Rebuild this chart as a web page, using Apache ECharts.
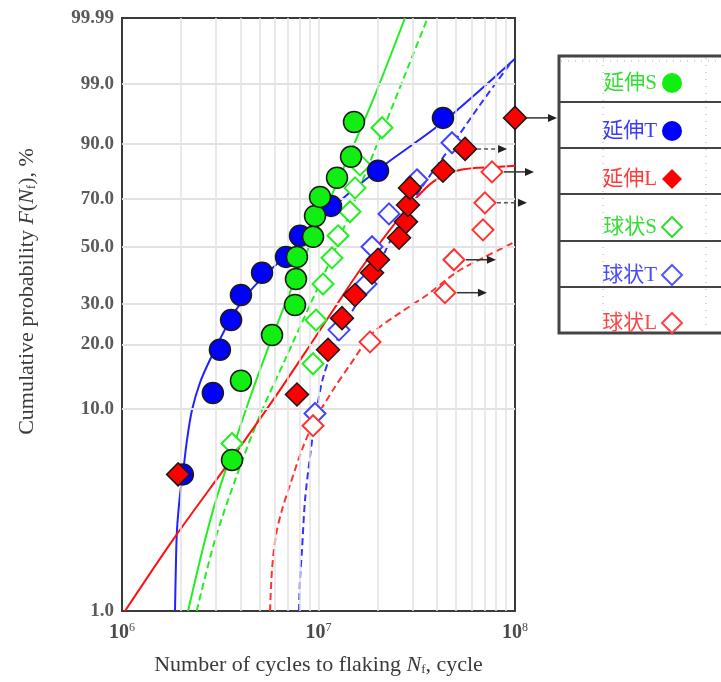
<!DOCTYPE html>
<html>
<head>
<meta charset="utf-8">
<script src="https://cdn.jsdelivr.net/npm/echarts@6/dist/echarts.min.js"></script>
<style>
html, body { margin: 0; padding: 0; background: #fff; }
#chart { width: 721px; height: 682px; }
</style>
</head>
<body>
<div id="chart"></div>
<script>
// 数据点：[循环次数 N, 累积概率 F %]
var yanshenS = [[3.63e6, 5.65], [4.03e6, 13.6], [5.80e6, 22.0], [7.59e6, 29.7], [7.68e6, 37.9], [7.77e6, 46.0],
  [9.38e6, 54.1], [9.60e6, 62.9], [1.018e7, 71.0], [1.242e7, 78.7], [1.464e7, 86.1], [1.516e7, 94.8]];
var yanshenT = [[2.04e6, 4.8], [2.90e6, 11.9], [3.15e6, 18.9], [3.59e6, 25.6], [4.03e6, 32.7], [5.16e6, 40.1],
  [6.83e6, 46.0], [8.05e6, 54.5], [1.158e7, 67.2], [2.008e7, 81.3], [4.30e7, 95.5]];
var yanshenL = [[1.93e6, 4.8], [7.77e6, 11.7], [1.118e7, 18.9], [1.317e7, 26.1], [1.534e7, 32.7], [1.873e7, 40.1],
  [2.008e7, 44.9], [2.569e7, 53.7], [2.788e7, 60.4], [2.854e7, 67.6], [2.921e7, 74.7], [4.30e7, 81.3],
  [5.57e7, 88.5], [1.0e8, 95.5]];
var qiuS = [[3.63e6, 6.8], [9.38e6, 16.3], [9.71e6, 25.6], [1.054e7, 36.2], [1.171e7, 45.6], [1.257e7, 54.5],
  [1.446e7, 64.7], [1.534e7, 74.7], [1.626e7, 83.4], [2.105e7, 93.7]];
var qiuT = [[9.60e6, 9.5], [1.272e7, 23.2], [1.745e7, 36.2], [1.873e7, 50.0], [2.285e7, 63.8], [3.17e7, 77.9],
  [4.78e7, 90.2]];
var qiuL = [[9.38e6, 8.3], [1.829e7, 20.5], [4.40e7, 33.4], [4.89e7, 44.9], [6.87e7, 57.0], [7.03e7, 68.5],
  [7.64e7, 80.9]];

// 拟合曲线
var fitYanshenS = [[2.168e6, 1.0], [2.584e6, 2.07], [3.009e6, 3.59], [3.545e6, 5.85], [4.481e6, 11.3],
  [5.867e6, 22.0], [7.774e6, 39.3], [1.018e7, 60.4], [1.364e7, 83.4], [1.940e7, 98.27], [2.755e7, 99.995]];
var fitQiuS = [[2.40e6, 1.0], [2.973e6, 2.27], [3.848e6, 4.77], [5.040e6, 9.35], [6.753e6, 17.0], [9.05e6, 29.7],
  [1.213e7, 48.8], [1.626e7, 75.1], [2.180e7, 94.3], [2.755e7, 99.40], [3.566e7, 99.994]];
var fitYanshenT = [[1.861e6, 1.0], [1.883e6, 1.80], [1.905e6, 2.55], [1.973e6, 3.80], [2.044e6, 4.88],
  [2.142e6, 7.08], [2.271e6, 9.88], [2.494e6, 13.3], [2.804e6, 17.0], [3.545e6, 25.6], [4.129e6, 31.2],
  [5.159e6, 38.3], [7.161e6, 48.0], [1.144e7, 65.5], [2.008e7, 81.7], [4.30e7, 94.8], [1.0e8, 99.79]];
var fitQiuT = [[7.96e6, 1.0], [8.05e6, 1.43], [8.24e6, 2.02], [8.54e6, 3.59], [9.05e6, 5.85], [9.60e6, 8.85],
  [1.054e7, 14.0], [1.213e7, 19.9], [1.446e7, 26.9], [1.725e7, 34.3], [2.056e7, 44.1], [2.451e7, 56.2],
  [3.285e7, 73.9], [4.67e7, 88.8], [6.64e7, 97.3], [9.43e7, 99.70]];
var fitYanshenL = [[1.036e6, 1.0], [1.861e6, 2.35], [3.672e6, 5.85], [5.867e6, 11.0], [8.74e6, 18.9],
  [1.286e7, 31.2], [1.626e7, 41.1], [2.056e7, 51.6], [2.921e7, 67.6], [3.825e7, 77.1], [5.07e7, 81.3],
  [6.41e7, 82.4], [7.91e7, 82.7], [1.0e8, 83.1]];
var fitQiuL = [[5.665e6, 1.0], [5.80e6, 1.61], [6.076e6, 2.40], [6.52e6, 3.20], [7.161e6, 4.26], [8.34e6, 6.54],
  [9.60e6, 8.85], [1.185e7, 12.3], [1.446e7, 16.1], [1.894e7, 22.5], [2.599e7, 27.5], [3.566e7, 32.7],
  [5.07e7, 40.4], [7.03e7, 46.0], [1.0e8, 52.0]];

// 打切（带箭头）的点：[N, F %, 虚线]
var suspended = [[1.0e8, 95.5, false], [5.57e7, 88.5, true], [7.64e7, 80.9, false], [7.03e7, 68.5, true],
  [4.89e7, 44.9, false], [4.40e7, 33.4, false]];

// 坐标刻度
var xMin = 1e6, xMax = 1e8;
var xGridValues = [2e6, 3e6, 4e6, 5e6, 6e6, 7e6, 8e6, 9e6, 1e7, 2e7, 3e7, 4e7, 5e7, 6e7, 7e7, 8e7, 9e7];
var yTickValues = [1.0, 10.0, 20.0, 30.0, 50.0, 70.0, 90.0, 99.0, 99.995];
var yTickLabels = ['1.0', '10.0', '20.0', '30.0', '50.0', '70.0', '90.0', '99.0', '99.99'];

// Weibull 概率纸变换
function wb(f) { return Math.log(-Math.log(1 - f / 100)); }
function toPlot(arr) { return arr.map(function (d) { return [d[0], wb(d[1])]; }); }

var serif = "'Liberation Serif', 'DejaVu Serif', serif";
var cjk = "'Liberation Serif', 'Noto Sans CJK SC', serif";
var GREEN = '#11ee11', BLUE = '#0000ff', RED = '#ff0000';
var txtColor = '#3a3a3a';

var chart = echarts.init(document.getElementById('chart'));

function fitLine(name, data, color, dashed) {
  return {
    name: name, type: 'line', data: toPlot(data), showSymbol: false, symbol: 'none',
    smooth: 0.3, clip: true, z: 2, silent: true,
    lineStyle: { color: color, width: 2, type: dashed ? [7, 4] : 'solid' }
  };
}
function points(name, data, symbol, size, fill, border, bw) {
  return {
    name: name, type: 'scatter', data: toPlot(data), symbol: symbol, symbolSize: size, clip: false, z: 5,
    itemStyle: { color: fill, borderColor: border, borderWidth: bw, opacity: 1 }
  };
}

var titleRich = {
  i: { fontFamily: serif, fontSize: 22, fontStyle: 'italic', color: txtColor },
  sub: { fontFamily: serif, fontSize: 13, color: txtColor, verticalAlign: 'bottom', padding: [9, 0, 0, 0] }
};

var option = {
  animation: false,
  backgroundColor: '#fff',
  grid: {
    left: 122, right: 206, top: 18, bottom: 71, containLabel: false, outerBoundsMode: 'none',
    show: true, borderColor: '#3a3a3a', borderWidth: 2, backgroundColor: '#fff'
  },
  xAxis: {
    type: 'log', logBase: 10, min: xMin, max: xMax,
    name: 'Number of cycles to flaking {i|N}{sub|f}, cycle',
    nameLocation: 'middle', nameGap: 43,
    nameTextStyle: { fontFamily: serif, fontSize: 22, color: txtColor, rich: titleRich },
    axisLine: { show: false }, axisTick: { show: false }, splitLine: { show: false },
    axisLabel: {
      margin: 11,
      formatter: function (v) { return '{b|10}{s|' + Math.round(Math.log10(v)) + '}'; },
      rich: {
        b: { fontFamily: serif, fontSize: 20, fontWeight: 'bold', color: '#4a4a4a' },
        s: { fontFamily: serif, fontSize: 12, color: '#4a4a4a', verticalAlign: 'top', padding: [0, 0, 9, 0] }
      }
    }
  },
  yAxis: {
    type: 'value', min: wb(yTickValues[0]), max: wb(yTickValues[yTickValues.length - 1]),
    name: 'Cumulative probability {i|F}({i|N}{sub|f}), %',
    nameLocation: 'middle', nameGap: 84,
    nameTextStyle: { fontFamily: serif, fontSize: 22, color: txtColor, rich: titleRich, padding: [0, 0, 0, 46] },
    axisLine: { show: false }, axisTick: { show: false }, axisLabel: { show: false }, splitLine: { show: false }
  },
  legend: {
    orient: 'vertical', right: 33, top: 67, align: 'right',
    itemWidth: 20, itemHeight: 20, itemGap: 26, selectedMode: false,
    textStyle: { fontFamily: cjk, fontSize: 21, lineHeight: 22 },
    data: [
      { name: '延伸S', icon: 'circle', itemStyle: { color: GREEN, borderWidth: 0 }, textStyle: { color: '#33dd33' } },
      { name: '延伸T', icon: 'circle', itemStyle: { color: BLUE, borderWidth: 0 }, textStyle: { color: '#3a3aff' } },
      { name: '延伸L', icon: 'diamond', itemStyle: { color: RED, borderWidth: 0 }, textStyle: { color: '#ff3a3a' } },
      { name: '球状S', icon: 'diamond', itemStyle: { color: '#fff', borderColor: '#33dd33', borderWidth: 2 }, textStyle: { color: '#33dd33' } },
      { name: '球状T', icon: 'diamond', itemStyle: { color: '#fff', borderColor: '#5555ff', borderWidth: 2 }, textStyle: { color: '#4a4aff' } },
      { name: '球状L', icon: 'diamond', itemStyle: { color: '#fff', borderColor: '#ff4444', borderWidth: 2 }, textStyle: { color: '#ff4444' } }
    ]
  },
  graphic: [
    { type: 'rect', z: 0, shape: { x: 559, y: 56, width: 200, height: 277 },
      style: { fill: '#fff', stroke: '#444', lineWidth: 3 } },
    { type: 'line', z: 0, shape: { x1: 603, y1: 58, x2: 603, y2: 331 }, style: { stroke: '#aaa', lineWidth: 1, lineDash: [1, 6] } },
    { type: 'line', z: 0, shape: { x1: 706, y1: 58, x2: 706, y2: 331 }, style: { stroke: '#aaa', lineWidth: 1, lineDash: [1, 6] } },
    { type: 'line', z: 0, shape: { x1: 561, y1: 61, x2: 721, y2: 61 }, style: { stroke: '#aaa', lineWidth: 1, lineDash: [1, 6] } },
    { type: 'line', z: 0, shape: { x1: 559, y1: 102, x2: 721, y2: 102 }, style: { stroke: '#444', lineWidth: 2 } },
    { type: 'line', z: 0, shape: { x1: 559, y1: 148, x2: 721, y2: 148 }, style: { stroke: '#444', lineWidth: 2 } },
    { type: 'line', z: 0, shape: { x1: 559, y1: 194, x2: 721, y2: 194 }, style: { stroke: '#444', lineWidth: 2 } },
    { type: 'line', z: 0, shape: { x1: 559, y1: 241, x2: 721, y2: 241 }, style: { stroke: '#444', lineWidth: 2 } },
    { type: 'line', z: 0, shape: { x1: 559, y1: 287, x2: 721, y2: 287 }, style: { stroke: '#444', lineWidth: 2 } }
  ],
  series: [
    {
      name: '_grid', type: 'line', data: [], clip: false, silent: true, z: 1,
      markLine: {
        silent: true, animation: false, symbol: ['none', 'none'],
        lineStyle: { color: '#e2e2e2', width: 1.5, type: 'solid' },
        label: { show: false },
        data: xGridValues.map(function (v) { return { xAxis: v, label: { show: false } }; })
          .concat(yTickValues.map(function (f, i) {
            var edge = (i === 0 || i === yTickValues.length - 1);
            return {
              yAxis: wb(f),
              lineStyle: edge ? { color: 'rgba(0,0,0,0)' } : { color: '#e2e2e2', width: 2 },
              label: {
                show: true, position: 'start', distance: 8, formatter: yTickLabels[i],
                fontFamily: serif, fontSize: 19, fontWeight: 'bold', color: '#5a5a5a'
              }
            };
          }))
      }
    },
    fitLine('fitS', fitYanshenS, '#22ee22', false),
    fitLine('fitQS', fitQiuS, '#22ee22', true),
    fitLine('fitT', fitYanshenT, '#2222ff', false),
    fitLine('fitQT', fitQiuT, '#3333ff', true),
    fitLine('fitL', fitYanshenL, '#ff1111', false),
    fitLine('fitQL', fitQiuL, '#ff3333', true),
    points('球状S', qiuS, 'diamond', 21, '#fff', '#22ee22', 2),
    points('球状T', qiuT, 'diamond', 21, '#fff', '#4444ff', 2),
    points('球状L', qiuL, 'diamond', 21, '#fff', '#ff3333', 2),
    points('延伸T', yanshenT, 'circle', 21, BLUE, '#1a1a1a', 1.5),
    points('延伸S', yanshenS, 'circle', 21, GREEN, '#1a1a1a', 1.5),
    points('延伸L', yanshenL, 'diamond', 23, RED, '#1a1a1a', 1.5)
  ]
};
chart.setOption(option);

// 打切箭头
var arrows = [];
suspended.forEach(function (s) {
  var p = chart.convertToPixel({ gridIndex: 0 }, [s[0], wb(s[1])]);
  var x1 = p[0] + 12, x2 = p[0] + 42, y = p[1];
  arrows.push({
    type: 'line', z: 10, shape: { x1: x1, y1: y, x2: x2 - 7, y2: y },
    style: { stroke: s[2] ? '#555' : '#333', lineWidth: 1.5, lineDash: s[2] ? [4, 3] : null }
  });
  arrows.push({
    type: 'polygon', z: 10, shape: { points: [[x2, y], [x2 - 9, y - 4], [x2 - 9, y + 4]] },
    style: { fill: '#222' }
  });
});
chart.setOption({ graphic: option.graphic.concat(arrows) });
</script>
</body>
</html>
